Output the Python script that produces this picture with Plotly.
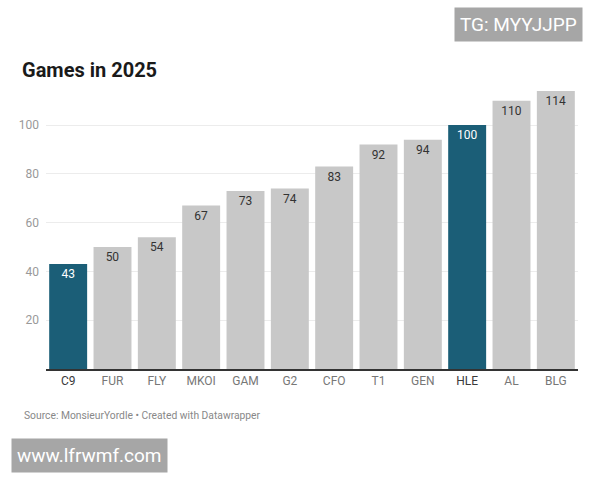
import plotly.graph_objects as go

teams = ["C9", "FUR", "FLY", "MKOI", "GAM", "G2", "CFO", "T1", "GEN", "HLE", "AL", "BLG"]
games = [43, 50, 54, 67, 73, 74, 83, 92, 94, 100, 110, 114]
highlight = ["C9", "HLE"]
y_ticks = [20, 40, 60, 80, 100]

HL = "#1b5e77"
GR = "#c8c8c8"
colors = [HL if t in highlight else GR for t in teams]
text_colors = ["#ffffff" if t in highlight else "#333333" for t in teams]
ticktext = [f'<span style="color:#3a3a3a">{t}</span>' if t in highlight else t for t in teams]

W, H = 600, 480
L, R, T, B = 46, 22, 89, 111
pw, ph = W - L - R, H - T - B

def px(x):
    return (x - L) / pw

def py(y):
    return (H - B - y) / ph

fig = go.Figure(go.Bar(
    x=teams, y=games, marker=dict(color=colors, line=dict(width=0)),
    text=[str(v) for v in games], textposition="inside", insidetextanchor="end",
    textfont=dict(color=text_colors, size=12, family="Roboto"),
    textangle=0, cliponaxis=False, hoverinfo="skip",
))

fig.update_layout(
    width=W, height=H, margin=dict(l=L, r=R, t=T, b=B),
    paper_bgcolor="white", plot_bgcolor="white",
    bargap=0.144, showlegend=False,
    font=dict(family="Roboto", color="#333"),
    title=dict(text="<b>Games in 2025</b>", x=22 / W, xanchor="left", xref="container",
               y=1 - 70 / H, yanchor="middle", yref="container",
               font=dict(size=20, color="#1a1a1a", family="Roboto")),
    xaxis=dict(showline=True, linecolor="#333", linewidth=2, ticks="", tickvals=teams, ticktext=ticktext,
               tickfont=dict(size=12, color="#777"), showgrid=False, fixedrange=True),
    yaxis=dict(range=[0, 114.8], tickvals=y_ticks, showgrid=True, gridcolor="#ececec", gridwidth=1,
               zeroline=False, tickfont=dict(size=12, color="#999"), ticks="", ticklabelstandoff=6,
               fixedrange=True),
    annotations=[
        dict(text="Source: MonsieurYordle • Created with Datawrapper", xref="paper", yref="paper",
             x=px(22), y=py(415), xanchor="left", yanchor="middle", showarrow=False,
             font=dict(size=10.3, color="#888")),
        dict(text="TG: MYYJJPP", xref="paper", yref="paper", x=px(518), y=py(25),
             xanchor="center", yanchor="middle", showarrow=False, bgcolor="#a6a6a6",
             borderpad=5, font=dict(size=19, color="white", family="Roboto")),
        dict(text="www.lfrwmf.com", xref="paper", yref="paper", x=px(89), y=py(455),
             xanchor="center", yanchor="middle", showarrow=False, bgcolor="#a6a6a6",
             borderpad=5, font=dict(size=19, color="white", family="Roboto")),
    ],
)

fig.write_html("out.html", config={"displayModeBar": False},
               post_script="document.body.style.margin='0';")
